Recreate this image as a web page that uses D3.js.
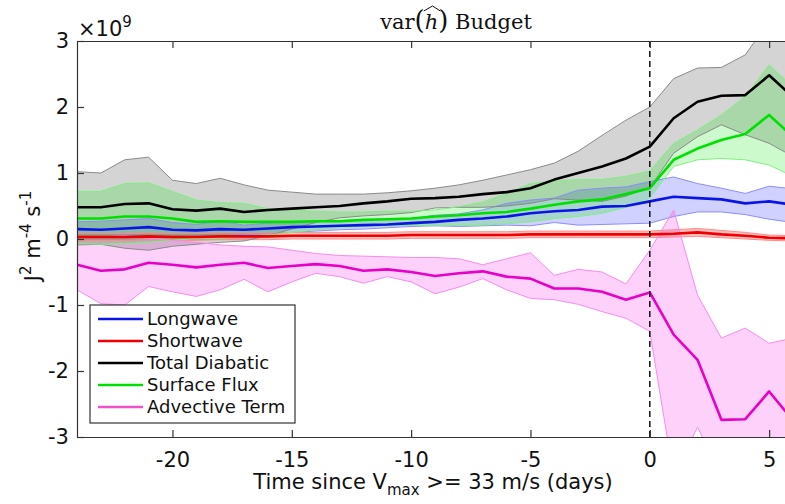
<!DOCTYPE html>
<html>
<head>
<meta charset="utf-8">
<script src="https://cdn.jsdelivr.net/npm/d3@7"></script>
<style>
body{margin:0;background:#fff}
text{font-family:"DejaVu Sans",sans-serif}
</style>
</head>
<body>
<script>
// days relative to Vmax >= 33 m/s, values in units of 1e9
const days = [-24,-23,-22,-21,-20,-19,-18,-17,-16,-15,-14,-13,-12,-11,-10,-9,-8,-7,-6,-5,-4,-3,-2,-1,0,1,2,3,4,5,6]

const longwave   = [0.15,0.14,0.16,0.18,0.14,0.13,0.15,0.14,0.16,0.18,0.19,0.20,0.21,0.22,0.24, 0.26,0.29,0.31,0.34,0.39,0.42,0.44,0.49,0.50,0.57, 0.64,0.62,0.60,0.54,0.57,0.52]
const longwaveHi = [0.26,0.27,0.29,0.31,0.25,0.22,0.27,0.21,0.24,0.26,0.27,0.28,0.29,0.30,0.31, 0.36,0.38,0.44,0.54,0.59,0.62,0.74,0.77,0.79,0.87, 0.94,0.84,0.77,0.69,0.80,0.76]
const longwaveLo = [0.04,0.03,0.05,0.05,0.03,0.04,0.05,0.07,0.08,0.10,0.12,0.14,0.15,0.17,0.19, 0.20,0.19,0.20,0.21,0.20,0.25,0.21,0.22,0.23,0.24, 0.34,0.41,0.41,0.37,0.30,0.25]

const shortwave   = [0.03,0.03,0.03,0.04,0.03,0.03,0.04,0.04,0.04,0.05,0.05,0.05,0.05,0.05,0.06, 0.06,0.06,0.06,0.06,0.07,0.07,0.07,0.07,0.07,0.07, 0.08,0.10,0.07,0.05,0.02,0.01]
const shortwaveHi = [0.08,0.08,0.08,0.09,0.08,0.08,0.09,0.09,0.09,0.10,0.10,0.10,0.10,0.10,0.11, 0.11,0.11,0.11,0.11,0.12,0.12,0.12,0.12,0.12,0.12, 0.14,0.16,0.13,0.10,0.06,0.05]
const shortwaveLo = [-0.02,-0.02,-0.02,-0.01,-0.02,-0.02,-0.01,-0.01,-0.01,0.00,0.00,0.00,0.00,0.00,0.01, 0.01,0.01,0.01,0.01,0.02,0.02,0.02,0.02,0.02,0.02, 0.03,0.04,0.02,0.00,-0.02,-0.03]

const totalDiabatic = [0.48,0.48,0.53,0.54,0.45,0.43,0.46,0.41,0.44,0.46,0.48,0.50,0.54,0.57,0.61, 0.62,0.64,0.68,0.71,0.77,0.90,1.00,1.10,1.22,1.40, 1.83,2.08,2.17,2.18,2.48,2.15]
const totalHi = [1.02,1.00,1.20,1.24,0.89,0.84,0.92,0.82,0.74,0.71,0.68,0.68,0.68,0.70,0.73, 0.77,0.82,0.89,0.97,1.05,1.15,1.33,1.57,1.80,2.00, 2.43,2.59,2.60,2.79,3.30,3.40]
const totalLo = [-0.09,-0.08,-0.14,-0.17,-0.11,-0.08,-0.05,-0.03,0.05,0.15,0.25,0.32,0.35,0.37,0.40, 0.47,0.48,0.48,0.50,0.54,0.61,0.59,0.57,0.65,0.78, 1.30,1.55,1.73,1.58,1.45,1.25]

const surfaceFlux = [0.31,0.31,0.34,0.34,0.31,0.26,0.27,0.26,0.26,0.26,0.27,0.27,0.29,0.30,0.31, 0.34,0.36,0.39,0.41,0.46,0.52,0.57,0.60,0.68,0.77, 1.20,1.37,1.50,1.59,1.88,1.55]
const surfaceHi = [0.72,0.72,0.84,0.85,0.72,0.59,0.55,0.54,0.46,0.44,0.42,0.41,0.41,0.42,0.42, 0.44,0.49,0.56,0.69,0.84,0.88,0.90,0.90,0.95,1.03, 1.45,1.65,1.88,2.16,2.64,2.30]
const surfaceLo = [-0.07,-0.08,-0.07,-0.05,-0.02,0.01,0.01,0.04,0.06,0.10,0.14,0.17,0.19,0.20,0.21, 0.20,0.21,0.21,0.23,0.26,0.31,0.34,0.39,0.48,0.62, 1.10,1.20,1.22,1.20,1.12,0.95]

const advective = [-0.39,-0.48,-0.46,-0.36,-0.39,-0.43,-0.39,-0.36,-0.44,-0.41,-0.38,-0.41,-0.48,-0.46,-0.50, -0.56,-0.52,-0.49,-0.57,-0.60,-0.75,-0.75,-0.80,-0.92,-0.81, -1.45,-1.83,-2.74,-2.73,-2.31,-2.75]
const advectiveHi = [0.04,0.03,0.05,0.01,-0.02,-0.05,-0.09,-0.11,-0.12,-0.17,-0.22,-0.25,-0.26,-0.27,-0.28, -0.28,-0.30,-0.39,-0.30,-0.21,-0.55,-0.46,-0.50,-0.68,-0.17, 0.44,-0.85,-1.50,-1.35,-1.58,-1.50]
const advectiveLo = [-0.77,-0.98,-1.00,-0.72,-0.80,-0.87,-0.77,-0.61,-0.80,-0.65,-0.52,-0.57,-0.67,-0.57,-0.65, -0.83,-0.73,-0.60,-0.77,-0.90,-0.92,-0.99,-1.10,-1.20,-1.40, -3.60,-2.85,-3.60,-3.80,-3.80,-3.80]

const xTicks = [-20,-15,-10,-5,0,5]
const yTicks = [-3,-2,-1,0,1,2,3]

const series = [
  {name:"Longwave",       mid:longwave,      hi:longwaveHi,  lo:longwaveLo,  line:"#0a14e6", fill:"rgba(0,0,255,0.18)",   edge:"#8c8cff", key:"#0a14e6"},
  {name:"Shortwave",      mid:shortwave,     hi:shortwaveHi, lo:shortwaveLo, line:"#f00000", fill:"rgba(255,0,0,0.25)",   edge:"#ff8a8a", key:"#f00000"},
  {name:"Total Diabatic", mid:totalDiabatic, hi:totalHi,     lo:totalLo,     line:"#000000", fill:"rgba(0,0,0,0.17)",     edge:"#8a8a8a", key:"#000000"},
  {name:"Surface Flux",   mid:surfaceFlux,   hi:surfaceHi,   lo:surfaceLo,   line:"#00e000", fill:"rgba(0,230,0,0.2)",    edge:"#80f080", key:"#00e000"},
  {name:"Advective Term", mid:advective,     hi:advectiveHi, lo:advectiveLo, line:"#e600c8", fill:"rgba(245,0,220,0.18)", edge:"#f78cec", key:"#f050c8"}
]

const svgWidth = 785, svgHeight = 504
const margin = {top:41, left:77}
const gWidth = 716, gHeight = 396

var x = d3.scaleLinear().domain([-24,6]).range([margin.left, margin.left+gWidth])
var y = d3.scaleLinear().domain([-3,3]).range([margin.top+gHeight, margin.top])

var svg = d3.select("body").append("svg")
  .attr("width", svgWidth)
  .attr("height", svgHeight)

svg.append("clipPath").attr("id","plot")
  .append("rect")
  .attr("x", margin.left).attr("y", margin.top)
  .attr("width", gWidth).attr("height", gHeight)

var plot = svg.append("g").attr("clip-path","url(#plot)")

var area = function(s){
  return d3.area()
    .x(function(d,i){ return x(days[i]) })
    .y0(function(d,i){ return y(s.lo[i]) })
    .y1(function(d,i){ return y(s.hi[i]) })(days)
}
var line = function(arr){
  return d3.line()
    .x(function(d,i){ return x(days[i]) })
    .y(function(d,i){ return y(arr[i]) })(days)
}

// shaded bands
series.forEach(function(s){
  plot.append("path").attr("d", area(s)).attr("fill", s.fill).attr("stroke","none")
})
series.forEach(function(s){
  plot.append("path").attr("d", line(s.hi)).attr("fill","none").attr("stroke", s.edge).attr("stroke-width",1)
  plot.append("path").attr("d", line(s.lo)).attr("fill","none").attr("stroke", s.edge).attr("stroke-width",1)
})
series.forEach(function(s){
  plot.append("path").attr("d", line(s.mid)).attr("fill","none")
    .attr("stroke", s.line).attr("stroke-width",2.6).attr("stroke-linejoin","round")
})

// vertical dashed line at day 0
plot.append("line")
  .attr("x1", x(0)).attr("x2", x(0))
  .attr("y1", margin.top).attr("y2", margin.top+gHeight)
  .attr("stroke","#111").attr("stroke-width",1.5).attr("stroke-dasharray","6,4")

// axes
var axisColor = "#333"
var xAxis = d3.axisBottom(x).tickValues(xTicks).tickSizeInner(-7).tickSizeOuter(0)
  .tickPadding(15).tickFormat(function(d){ return String(d) })
var xAxisTop = d3.axisTop(x).tickValues(xTicks).tickSizeInner(-7).tickSizeOuter(0).tickFormat("")
var yAxis = d3.axisLeft(y).tickValues(yTicks).tickSizeInner(-7).tickSizeOuter(0)
  .tickPadding(8).tickFormat(function(d){ return String(d) })

var gx = svg.append("g").attr("transform","translate(0,"+(margin.top+gHeight)+")").call(xAxis)
var gxt = svg.append("g").attr("transform","translate(0,"+margin.top+")").call(xAxisTop)
var gy = svg.append("g").attr("transform","translate("+margin.left+",0)").call(yAxis)

;[gx,gxt,gy].forEach(function(g){
  g.selectAll("path,line").attr("stroke", axisColor).attr("stroke-width",1.2)
  g.selectAll("text").attr("fill","#111").style("font-size","21px").style("font-family","DejaVu Sans, sans-serif")
})

// x label
var xl = svg.append("text")
  .attr("x", 433).attr("y", 489)
  .attr("text-anchor","middle")
  .style("font-size","21px").attr("fill","#111")
xl.append("tspan").text("Time since V")
xl.append("tspan").attr("dy",6).style("font-size","15px").text("max")
xl.append("tspan").attr("dy",-6).text(" >= 33 m/s (days)")

// y label
var yl = svg.append("text")
  .attr("transform","translate(40,236) rotate(-90)")
  .attr("text-anchor","middle")
  .style("font-size","21px").attr("fill","#111")
yl.append("tspan").text("J")
yl.append("tspan").attr("dy",-9).style("font-size","15px").text("2")
yl.append("tspan").attr("dy",9).text(" m")
yl.append("tspan").attr("dy",-9).style("font-size","15px").text("-4")
yl.append("tspan").attr("dy",9).text(" s")
yl.append("tspan").attr("dy",-9).style("font-size","15px").text("-1")

// exponent
var ex = svg.append("text").attr("x", 78).attr("y", 36)
  .style("font-size","21px").attr("fill","#111")
ex.append("tspan").text("\u00d710")
ex.append("tspan").attr("dy",-9).style("font-size","15px").text("9")

// title
var title = svg.append("text")
  .attr("x", 456).attr("y", 29)
  .attr("text-anchor","middle")
  .style("font-family","DejaVu Serif, serif").style("font-size","21px").attr("fill","#111")
title.append("tspan").text("var")
title.append("tspan").style("font-size","26px").text("(")
title.append("tspan").style("font-style","italic").text("h")
title.append("tspan").style("font-size","26px").text(")")
title.append("tspan").text(" Budget")
var hb = title.node().getExtentOfChar(4)
svg.append("path")
  .attr("d", "M"+(hb.x-1)+","+(hb.y+1)+" L"+(hb.x+hb.width/2+1)+","+(hb.y-4)+" L"+(hb.x+hb.width+2)+","+(hb.y+1))
  .attr("fill","none").attr("stroke","#111").attr("stroke-width",1)

// legend
var legend = svg.append("g")
legend.append("rect")
  .attr("x",90).attr("y",305).attr("width",205).attr("height",118)
  .attr("fill","#fff").attr("stroke",axisColor).attr("stroke-width",1.2)
series.forEach(function(s,i){
  var ly = 319 + i*22
  legend.append("line").attr("x1",98).attr("x2",143).attr("y1",ly).attr("y2",ly)
    .attr("stroke", s.key).attr("stroke-width",2.6)
  legend.append("text").attr("x",147).attr("y",ly).attr("dy","0.36em")
    .style("font-size","18px").attr("fill","#111").text(s.name)
})
</script>
</body>
</html>
